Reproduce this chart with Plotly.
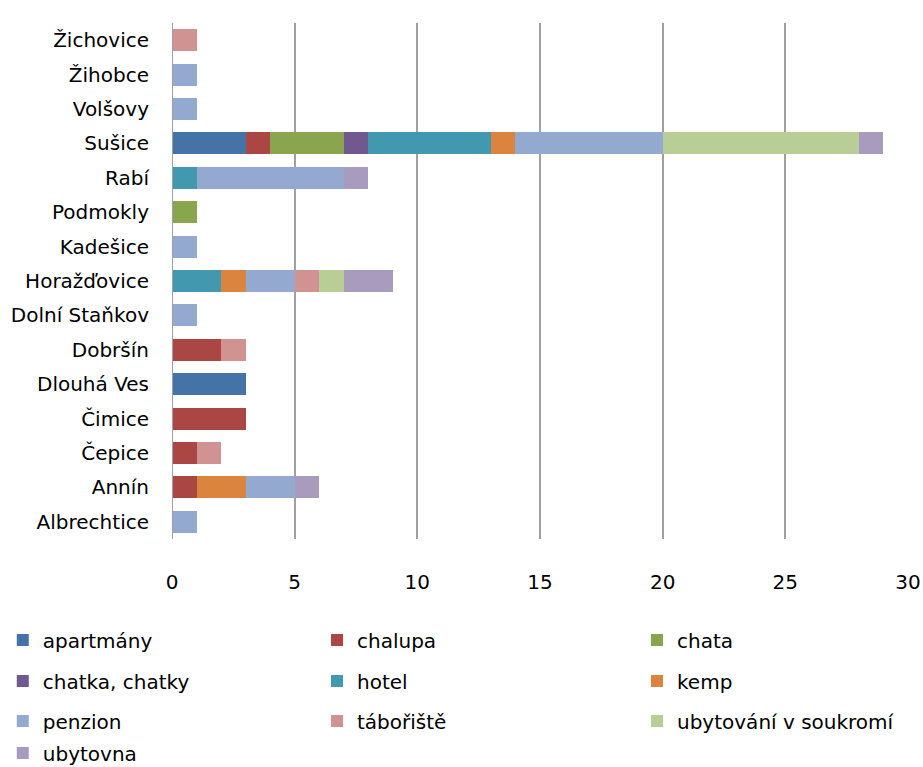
import plotly.graph_objects as go

places = ["Albrechtice", "Annín", "Čepice", "Čimice", "Dlouhá Ves", "Dobršín",
          "Dolní Staňkov", "Horažďovice", "Kadešice", "Podmokly", "Rabí",
          "Sušice", "Volšovy", "Žihobce", "Žichovice"]

apartmany = [0, 0, 0, 0, 3, 0, 0, 0, 0, 0, 0, 3, 0, 0, 0]
chalupa = [0, 1, 1, 3, 0, 2, 0, 0, 0, 0, 0, 1, 0, 0, 0]
chata = [0, 0, 0, 0, 0, 0, 0, 0, 0, 1, 0, 3, 0, 0, 0]
chatky = [0, 0, 0, 0, 0, 0, 0, 0, 0, 0, 0, 1, 0, 0, 0]
hotel = [0, 0, 0, 0, 0, 0, 0, 2, 0, 0, 1, 5, 0, 0, 0]
kemp = [0, 2, 0, 0, 0, 0, 0, 1, 0, 0, 0, 1, 0, 0, 0]
penzion = [1, 2, 0, 0, 0, 0, 1, 2, 1, 0, 6, 6, 1, 1, 0]
taboriste = [0, 0, 1, 0, 0, 1, 0, 1, 0, 0, 0, 0, 0, 0, 1]
soukromi = [0, 0, 0, 0, 0, 0, 0, 1, 0, 0, 0, 8, 0, 0, 0]
ubytovna = [0, 1, 0, 0, 0, 0, 0, 2, 0, 0, 1, 1, 0, 0, 0]

series = [
    ("apartmány", apartmany, "#4572A7"),
    ("chalupa", chalupa, "#AA4643"),
    ("chata", chata, "#89A54E"),
    ("chatka, chatky", chatky, "#71588F"),
    ("hotel", hotel, "#4198AF"),
    ("kemp", kemp, "#DB843D"),
    ("penzion", penzion, "#93A9CF"),
    ("tábořiště", taboriste, "#D19392"),
    ("ubytování v soukromí", soukromi, "#B9CD96"),
    ("ubytovna", ubytovna, "#A99BBD"),
]

FONT = "DejaVu Sans"
FSIZE = 20

fig = go.Figure()
legends = {}
col_x = [0.003, 317 / 923, 637 / 923]
row_y = [640, 681, 721, 753]
for i, (name, vals, color) in enumerate(series):
    key = "legend" if i == 0 else f"legend{i + 1}"
    fig.add_trace(go.Bar(
        y=places, x=[v if v else None for v in vals], name=name,
        orientation="h", marker=dict(color=color, line=dict(width=0)),
        legend=key, showlegend=True,
    ))
    # one legend box per entry, laid out in the 3-column grid of the original
    legends[key] = dict(
        xref="container", yref="container",
        x=col_x[i % 3], y=1 - row_y[i // 3] / 767,
        xanchor="left", yanchor="middle",
        font=dict(family=FONT, size=FSIZE, color="#000"),
        bgcolor="rgba(0,0,0,0)", itemclick=False, itemdoubleclick=False,
    )

fig.update_layout(
    showlegend=True,
    barmode="stack",
    bargap=0.36,
    width=923, height=767,
    margin=dict(l=172, r=15, t=23, b=228, autoexpand=False),
    plot_bgcolor="white", paper_bgcolor="white",
    font=dict(family=FONT, size=FSIZE, color="#000"),
    xaxis=dict(range=[0, 30], dtick=5, showgrid=True, gridcolor="#a0a0a0",
               gridwidth=2, zeroline=False, showline=False,
               ticklabelstandoff=29, tickfont=dict(family=FONT, size=FSIZE)),
    yaxis=dict(showgrid=False, showline=False, ticklabelstandoff=22,
               tickfont=dict(family=FONT, size=FSIZE)),
    **legends,
)
fig.add_vline(x=0, line=dict(color="#a0a0a0", width=2))

# drop the default 8px body margin so the figure sits at the page corner
fig.write_html("out.html", config={"displayModeBar": False},
               post_script="document.body.style.margin='0';")
